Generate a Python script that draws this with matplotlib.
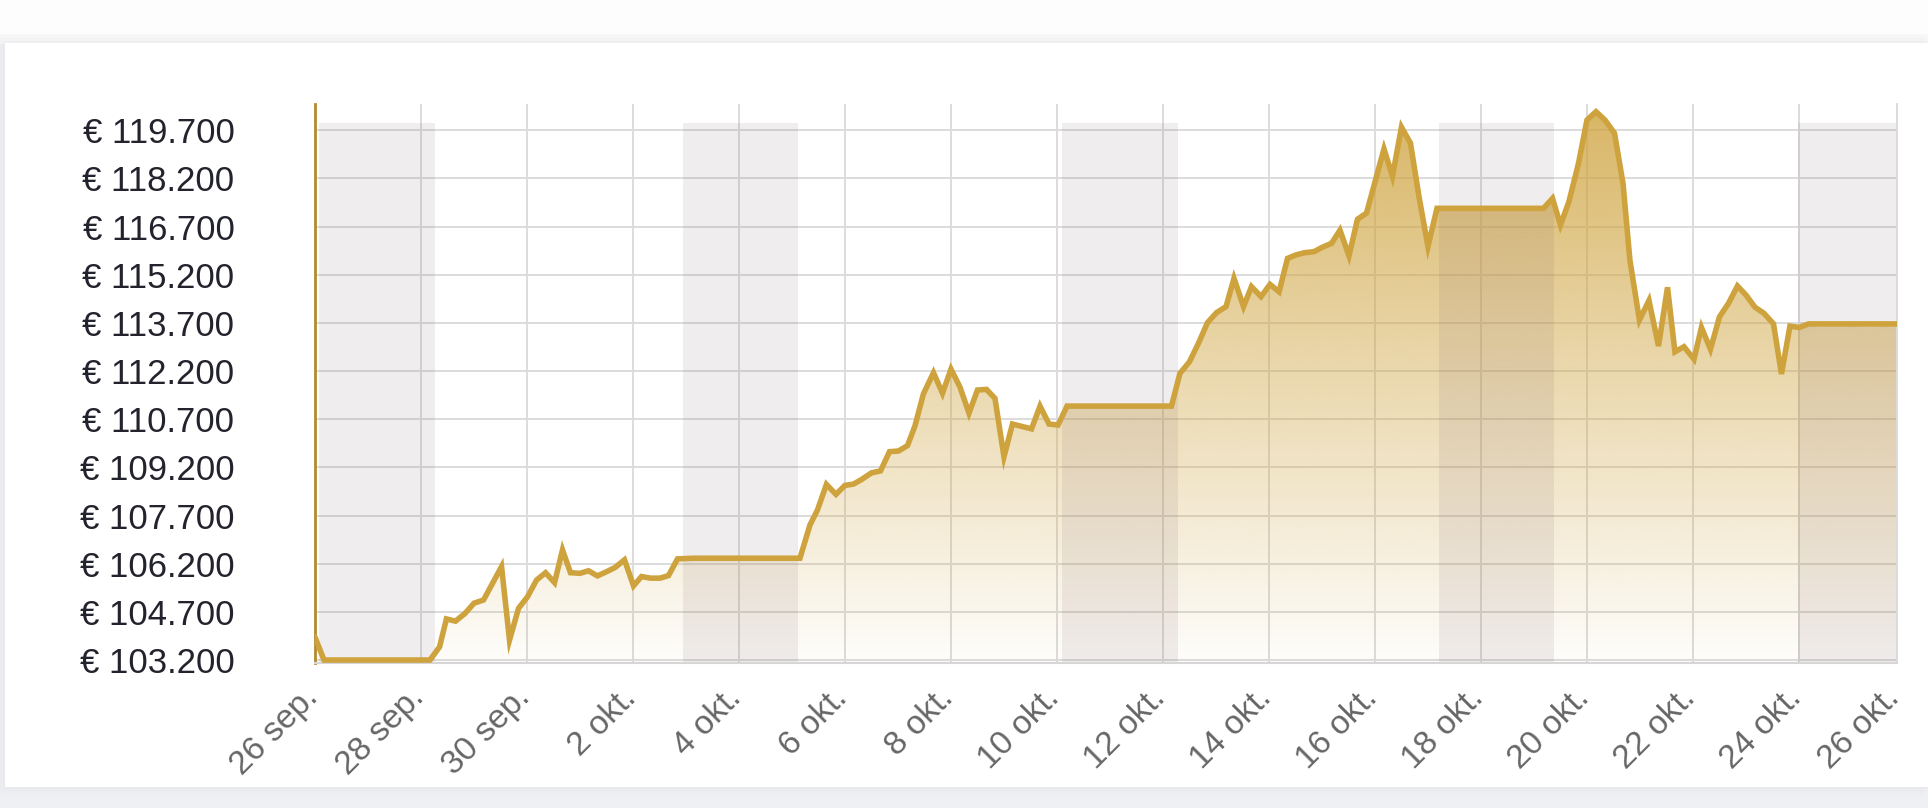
import numpy as np
import matplotlib
matplotlib.use("Agg")
import matplotlib.pyplot as plt
from matplotlib.patches import Rectangle
from matplotlib.transforms import ScaledTranslation

plt.rcParams['font.family'] = ['Liberation Sans', 'DejaVu Sans']

# days after 26 sep (00:00), price in thousands of euro
days = [0.00, 0.17, 2.17, 2.35, 2.48, 2.65, 2.83, 3.00, 3.18, 3.52, 3.67, 3.84,
        4.01, 4.18, 4.35, 4.52, 4.67, 4.82, 5.00, 5.16, 5.33, 5.50, 5.66, 5.84,
        6.01, 6.16, 6.33, 6.51, 6.67, 6.84, 7.14, 9.15, 9.34, 9.48, 9.65, 9.83,
        10.00, 10.16, 10.31, 10.50, 10.67, 10.84, 11.01, 11.18, 11.32, 11.48, 11.67, 11.84,
        12.00, 12.17, 12.34, 12.50, 12.67, 12.83, 13.00, 13.16, 13.52, 13.68, 13.85, 14.02,
        14.19, 16.16, 16.32, 16.50, 16.67, 16.84, 17.01, 17.19, 17.34, 17.52, 17.67, 17.85,
        18.02, 18.19, 18.35, 18.51, 18.68, 18.85, 19.01, 19.18, 19.34, 19.51, 19.67, 19.84,
        20.01, 20.17, 20.33, 20.50, 20.67, 20.83, 21.00, 21.17, 23.18, 23.35, 23.50, 23.66,
        23.84, 24.00, 24.17, 24.34, 24.52, 24.68, 24.81, 24.99, 25.17, 25.35, 25.52, 25.66,
        25.83, 26.02, 26.16, 26.33, 26.50, 26.67, 26.84, 27.00, 27.17, 27.34, 27.52, 27.67,
        27.83, 28.01, 28.18, 29.85]
prices = [103.91, 103.20, 103.20, 103.61, 104.48, 104.41, 104.65, 104.97, 105.07, 106.11, 103.82, 104.81,
          105.17, 105.69, 105.92, 105.61, 106.63, 105.92, 105.90, 105.98, 105.82, 105.95, 106.08, 106.32,
          105.51, 105.80, 105.75, 105.75, 105.83, 106.35, 106.37, 106.37, 107.41, 107.87, 108.67, 108.36,
          108.64, 108.68, 108.82, 109.03, 109.09, 109.69, 109.71, 109.88, 110.49, 111.49, 112.15, 111.51,
          112.26, 111.70, 110.89, 111.61, 111.63, 111.35, 109.53, 110.55, 110.40, 111.11, 110.55, 110.52,
          111.11, 111.11, 112.13, 112.49, 113.07, 113.71, 114.02, 114.21, 115.09, 114.21, 114.83, 114.52,
          114.90, 114.67, 115.71, 115.82, 115.89, 115.92, 116.06, 116.18, 116.59, 115.79, 116.93, 117.12,
          118.15, 119.12, 118.27, 119.80, 119.30, 117.64, 116.08, 117.27, 117.27, 117.58, 116.75, 117.48,
          118.67, 120.02, 120.28, 120.02, 119.61, 118.05, 115.66, 113.79, 114.40, 112.98, 114.81, 112.80,
          112.96, 112.57, 113.56, 112.88, 113.89, 114.31, 114.85, 114.57, 114.19, 114.00, 113.67, 112.11,
          113.60, 113.56, 113.67, 113.67]

# closed market periods (weekends), start/end in days
band_start = [0.08, 6.94, 14.10, 21.20, 27.98]
band_end = [2.27, 9.12, 16.28, 23.37, 29.85]
band_top = 119.93

xtick_pos = [0, 2, 4, 6, 8, 10, 12, 14, 16, 18, 20, 22, 24, 26, 28, 29.85]
xtick_labels = ['26 sep.', '28 sep.', '30 sep.', '2 okt.', '4 okt.', '6 okt.', '8 okt.',
                '10 okt.', '12 okt.', '14 okt.', '16 okt.', '18 okt.', '20 okt.',
                '22 okt.', '24 okt.', '26 okt.']
ytick_pos = [103.2, 104.7, 106.2, 107.7, 109.2, 110.7, 112.2, 113.7, 115.2, 116.7, 118.2, 119.7]
ytick_labels = ['€ 103.200', '€ 104.700', '€ 106.200', '€ 107.700', '€ 109.200', '€ 110.700',
                '€ 112.200', '€ 113.700', '€ 115.200', '€ 116.700', '€ 118.200', '€ 119.700']

W, H = 1928, 808
y0, y1 = 103.107, 120.52
x0, x1 = 0, 29.85
gold = '#cea23c'

fig = plt.figure(figsize=(W / 100, H / 100), dpi=100)
fig.patch.set_facecolor('#eff0f3')

# page header strip and card with a soft shadow
fig.add_artist(Rectangle((0, 1 - 44 / H), 1, 44 / H, transform=fig.transFigure,
                         facecolor='#f8f8f9', edgecolor='none', zorder=0))
fig.add_artist(Rectangle((0, 1 - 34 / H), 1, 34 / H, transform=fig.transFigure,
                         facecolor='#fdfdfd', edgecolor='none', zorder=0))
for k, a in [(8, 0.012), (5, 0.02), (2, 0.03)]:
    fig.add_artist(Rectangle(((5 - k) / W, 1 - (787 + k) / H), 1, (744 + 2 * k) / H,
                             transform=fig.transFigure, facecolor='#8a8f9c',
                             alpha=a, edgecolor='none', zorder=0))
fig.add_artist(Rectangle((5 / W, 1 - 787 / H), 1, 744 / H, transform=fig.transFigure,
                         facecolor='white', edgecolor='none', zorder=0))

ax = fig.add_axes([315 / W, 145 / H, (1897 - 315) / W, (663 - 104) / H])
ax.set_facecolor('white')

# gradient fill under the line
n = 256
t = np.linspace(0, 1, n)
grad = np.zeros((n, 1, 4))
grad[:, 0, 0] = 207 / 255
grad[:, 0, 1] = 163 / 255
grad[:, 0, 2] = 62 / 255
grad[:, 0, 3] = 0.78 * (1 - t) + 0.02
im = ax.imshow(grad, extent=[x0, x1, y0, y1], aspect='auto', origin='upper', zorder=1)
poly = ax.fill_between(days, prices, y0, facecolor='none', edgecolor='none')
im.set_clip_path(poly.get_paths()[0], ax.transData)

for s, e in zip(band_start, band_end):
    ax.add_patch(Rectangle((s, y0), e - s, band_top - y0, facecolor=(115 / 255, 85 / 255, 95 / 255),
                           alpha=0.1, edgecolor='none', zorder=2))

ax.plot(days, prices, color=gold, lw=4.0, zorder=4, solid_joinstyle='miter')

ax.set_xlim(x0, x1)
ax.set_ylim(y0, y1)
ax.set_xticks(xtick_pos)
ax.set_xticklabels(xtick_labels, rotation=45, ha='right', va='baseline', rotation_mode='anchor')
ax.set_yticks(ytick_pos)
ax.set_yticklabels(ytick_labels)
ax.grid(True, color='#dcdcdc', lw=1.4, zorder=0)
ax.set_axisbelow(True)
ax.tick_params(axis='x', length=0, pad=26, labelsize=24, labelcolor='#666666')
ax.tick_params(axis='y', length=0, pad=58, labelsize=25, labelcolor='#22232c')
for lab in ax.get_xticklabels():
    lab.set_transform(lab.get_transform() + ScaledTranslation(0.04, 0, fig.dpi_scale_trans))

ax.spines['top'].set_visible(False)
ax.spines['left'].set_color('#b38a2f')
ax.spines['left'].set_linewidth(2)
ax.spines['bottom'].set_color('#d6d6d6')
ax.spines['bottom'].set_linewidth(1.5)
ax.spines['right'].set_color('#dcdcdc')
ax.spines['right'].set_linewidth(1.4)

fig.savefig('out.png', dpi=100, facecolor=fig.get_facecolor())
